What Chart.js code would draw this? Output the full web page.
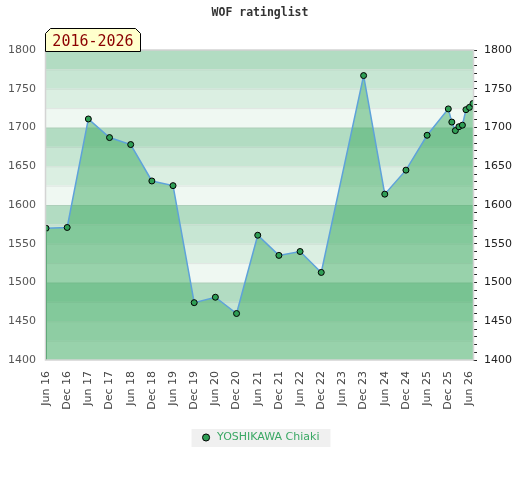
<!DOCTYPE html>
<html>
<head>
<meta charset="utf-8">
<title>WOF ratinglist</title>
<script src="https://cdn.jsdelivr.net/npm/chart.js@4.4.1/dist/chart.umd.min.js"></script>
<style>
  html, body { margin: 0; padding: 0; background: #fff; }
  #wrap { width: 520px; height: 480px; }
</style>
</head>
<body>
<div id="wrap"><canvas id="ratingChart"></canvas></div>
<script>
// rating list dates (year-month) and ratings
const ratingDates = [
  '2016-06', '2016-12', '2017-06', '2017-12', '2018-06', '2018-12',
  '2019-06', '2019-12', '2020-06', '2020-12', '2021-06', '2021-12',
  '2022-06', '2022-12', '2023-12', '2024-06', '2024-12', '2025-06',
  '2025-12', '2026-01', '2026-02', '2026-03', '2026-04', '2026-05',
  '2026-06', '2026-07'
];
const ratings = [
  1570, 1571, 1711, 1687, 1678, 1631,
  1625, 1474, 1481, 1460, 1561, 1535,
  1540, 1513, 1767, 1614, 1645, 1690,
  1724, 1707, 1696, 1701, 1703, 1723,
  1726, 1731
];
const xTickLabels = [
  'Jun 16', 'Dec 16', 'Jun 17', 'Dec 17', 'Jun 18', 'Dec 18', 'Jun 19',
  'Dec 19', 'Jun 20', 'Dec 20', 'Jun 21', 'Dec 21', 'Jun 22', 'Dec 22',
  'Jun 23', 'Dec 23', 'Jun 24', 'Dec 24', 'Jun 25', 'Dec 25', 'Jun 26'
];
const yTicks = [1400, 1450, 1500, 1550, 1600, 1650, 1700, 1750, 1800];
const playerName = 'YOSHIKAWA Chiaki';
const periodLabel = '2016-2026';
const chartTitle = 'WOF ratinglist';

// months since Jun 2016
function monthIndex(ym) {
  const [y, m] = ym.split('-').map(Number);
  return (y - 2016) * 12 + (m - 6);
}

const points = ratingDates.map((d, i) => ({ x: monthIndex(d), y: ratings[i] }));
const xTickValues = xTickLabels.map((_, i) => i * 6);

const bandColors = ['#b2dcc2', '#c7e6d3', '#dbefe2', '#eff8f2'];

const decorPlugin = {
  id: 'decor',
  beforeDraw(chart) {
    const ctx = chart.ctx;
    // legend background
    const hb = chart.legend && chart.legend.legendHitBoxes[0];
    if (hb) {
      ctx.save();
      ctx.fillStyle = '#f0f0f0';
      ctx.fillRect(hb.left - 9, hb.top - 3, hb.width + 20, hb.height + 7);
      ctx.restore();
    }
  },
  beforeDatasetsDraw(chart) {
    const { ctx, chartArea } = chart;
    const y = chart.scales.y;
    ctx.save();
    let k = 0;
    for (let v = y.max; v > y.min; v -= 25, k++) {
      const top = y.getPixelForValue(v);
      const bot = y.getPixelForValue(v - 25);
      ctx.fillStyle = bandColors[k % 4];
      ctx.fillRect(chartArea.left, top, chartArea.right - chartArea.left, bot - top);
      ctx.fillStyle = 'rgba(150,150,150,0.18)';
      ctx.fillRect(chartArea.left, top, chartArea.right - chartArea.left, 1);
    }
    ctx.restore();
  },
  afterDatasetsDraw(chart) {
    const { ctx, chartArea } = chart;
    const pts = chart.getDatasetMeta(0).data;
    ctx.save();
    ctx.strokeStyle = '#3c9a5c';
    ctx.lineWidth = 1;
    [pts[0], pts[pts.length - 1]].forEach(p => {
      ctx.beginPath();
      ctx.moveTo(Math.round(p.x) + 0.5, p.y + 3);
      ctx.lineTo(Math.round(p.x) + 0.5, chartArea.bottom);
      ctx.stroke();
    });
    ctx.restore();
  },
  afterDraw(chart) {
    const { ctx, chartArea } = chart;
    ctx.save();
    // plot border
    ctx.strokeStyle = '#d4d4d4';
    ctx.lineWidth = 1.5;
    ctx.strokeRect(chartArea.left - 0.5, chartArea.top, chartArea.right - chartArea.left + 1, chartArea.bottom - chartArea.top);

    // title
    ctx.fillStyle = '#333';
    ctx.font = 'bold 11.5px "DejaVu Sans Mono"';
    ctx.textAlign = 'center';
    ctx.textBaseline = 'middle';
    ctx.fillText(chartTitle, 260, 13);

    // period tag
    const x0 = 45.5, x1 = 140.5, y0 = 28.5, y1 = 51.5, c = 5;
    ctx.beginPath();
    ctx.moveTo(x0, y1);
    ctx.lineTo(x0, y0 + c);
    ctx.lineTo(x0 + c, y0);
    ctx.lineTo(x1 - c, y0);
    ctx.lineTo(x1, y0 + c);
    ctx.lineTo(x1, y1);
    ctx.closePath();
    ctx.fillStyle = '#ffffcc';
    ctx.fill();
    ctx.strokeStyle = '#000';
    ctx.lineWidth = 1;
    ctx.stroke();
    ctx.fillStyle = '#8b0000';
    ctx.font = '15px "DejaVu Sans Mono"';
    ctx.textAlign = 'center';
    ctx.textBaseline = 'alphabetic';
    ctx.fillText(periodLabel, (x0 + x1) / 2, 45.5);
    ctx.restore();
  }
};

new Chart(document.getElementById('ratingChart'), {
  type: 'line',
  data: {
    datasets: [{
      label: playerName,
      data: points,
      borderColor: '#5ea2da',
      borderWidth: 1.5,
      backgroundColor: 'rgba(55,167,92,0.47)',
      fill: 'start',
      tension: 0,
      pointRadius: 3,
      pointBorderWidth: 1,
      pointBackgroundColor: '#2f9e55',
      pointBorderColor: '#000'
    }]
  },
  options: {
    responsive: true,
    maintainAspectRatio: false,
    animation: false,
    layout: { padding: { top: 50, left: 0, right: 0, bottom: 27 } },
    plugins: {
      title: { display: false },
      tooltip: { enabled: false },
      legend: {
        position: 'bottom',
        labels: {
          usePointStyle: true,
          boxWidth: 16,
          boxHeight: 5,
          padding: 12,
          color: '#3aa864',
          font: { family: 'DejaVu Sans', size: 11 },
          generateLabels(chart) {
            return Chart.defaults.plugins.legend.labels.generateLabels(chart).map(l => {
              l.fillStyle = '#2f9e55';
              l.strokeStyle = '#000';
              l.lineWidth = 1;
              l.pointStyle = 'circle';
              return l;
            });
          }
        }
      }
    },
    scales: {
      x: {
        type: 'linear',
        min: 0,
        max: 121,
        grid: { display: false, drawTicks: false },
        border: { display: false },
        afterBuildTicks(scale) {
          scale.ticks = xTickValues.map(v => ({ value: v }));
        },
        afterFit(scale) { scale.height = 60; },
        ticks: {
          autoSkip: false,
          maxRotation: 90,
          minRotation: 90,
          padding: 11,
          color: '#444',
          font: { family: 'DejaVu Sans', size: 11 },
          callback(value) {
            const i = xTickValues.indexOf(value);
            return i >= 0 ? xTickLabels[i] : '';
          }
        }
      },
      y: {
        position: 'left',
        min: 1400,
        max: 1800,
        grid: { display: false, drawTicks: false },
        border: { display: false },
        afterBuildTicks(scale) {
          scale.ticks = yTicks.map(v => ({ value: v }));
        },
        afterFit(scale) { scale.width = 46; },
        ticks: {
          padding: 10,
          color: '#555',
          font: { family: 'DejaVu Sans', size: 11 },
          callback(value) { return String(value); }
        }
      },
      y2: {
        position: 'right',
        min: 1400,
        max: 1800,
        grid: { drawOnChartArea: false, drawTicks: true, tickLength: 4, color: '#222', lineWidth: 1 },
        border: { display: false },
        afterFit(scale) { scale.width = 47; },
        ticks: {
          stepSize: 10,
          autoSkip: false,
          padding: 7,
          color: '#222',
          font: { family: 'DejaVu Sans', size: 11 },
          callback(value) {
            return yTicks.includes(value) ? String(value) : '';
          }
        }
      }
    }
  },
  plugins: [decorPlugin]
});
</script>
</body>
</html>
